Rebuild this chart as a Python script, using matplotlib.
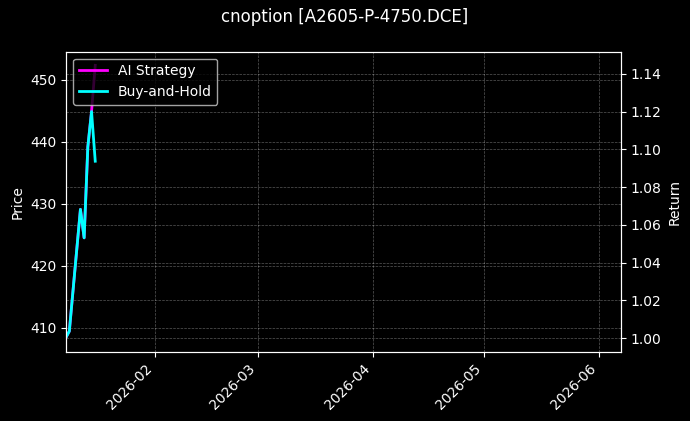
"""
plot.py
-------
Option backtest: AI strategy vs buy-and-hold return, dark theme.
"""

import matplotlib
matplotlib.use("Agg")
import matplotlib.pyplot as plt
import matplotlib.dates as mdates
import pandas as pd

# data
dates = pd.to_datetime([
    "2026-01-08", "2026-01-09", "2026-01-12", "2026-01-13",
    "2026-01-14", "2026-01-15", "2026-01-16",
])
ai_strategy = [1.000, 1.0036, 1.0682, 1.0531, 1.1013, 1.1200, 1.1445]
buy_and_hold = [1.000, 1.0036, 1.0682, 1.0531, 1.1013, 1.1200, 1.0937]

title = "cnoption [A2605-P-4750.DCE]"
x_start = pd.Timestamp("2026-01-08 05:00")
x_end = pd.Timestamp("2026-06-06 22:00")
price_range = (406.1, 454.5)

plt.style.use("dark_background")
fig, ax = plt.subplots(figsize=(6.9, 4.21), dpi=100)
fig.subplots_adjust(left=0.0962, right=0.9, top=0.8772, bottom=0.1646)
ax2 = ax.twinx()

ax.set_ylim(*price_range)
ax.set_ylabel("Price")
ax.grid(True, linestyle="--", linewidth=0.5, alpha=0.35)

ax2.plot(dates, ai_strategy, color="magenta", linewidth=2, label="AI Strategy")
ax2.plot(dates, buy_and_hold, color="cyan", linewidth=2, label="Buy-and-Hold")
ax2.set_ylabel("Return")
ax2.grid(True, linestyle="--", linewidth=0.5, alpha=0.35)
ax2.legend(loc="upper left")

ax.set_xlim(x_start, x_end)
ax.xaxis.set_major_locator(mdates.MonthLocator())
ax.xaxis.set_major_formatter(mdates.DateFormatter("%Y-%m"))
plt.setp(ax.get_xticklabels(), rotation=45, ha="right")

fig.suptitle(title, fontsize=12)
fig.savefig("out.png", dpi=100, facecolor="black")
